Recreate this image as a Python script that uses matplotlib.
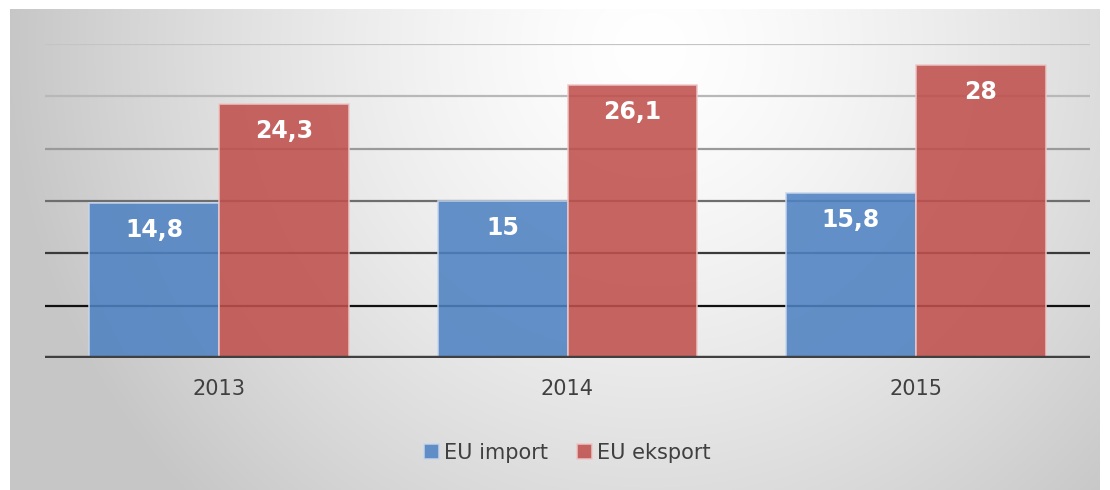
import numpy as np
import matplotlib
matplotlib.use("Agg")
import matplotlib.pyplot as plt

years = ["2013", "2014", "2015"]
eu_import = [14.8, 15.0, 15.8]
eu_eksport = [24.3, 26.1, 28.0]
import_labels = ["14,8", "15", "15,8"]
eksport_labels = ["24,3", "26,1", "28"]
series_names = ["EU import", "EU eksport"]

W, H = 1110, 490
fig = plt.figure(figsize=(W / 100, H / 100), dpi=100)
fig.patch.set_facecolor("white")

# background panel with radial gradient
bg = fig.add_axes([10 / W, 0, 1090 / W, (H - 9) / H], zorder=0)
yy, xx = np.mgrid[0:481, 0:1090]
cx, cy = 640, 40
rx, ry = 640, 640
t = np.sqrt(((xx - cx) / rx) ** 2 + ((yy - cy) / ry) ** 2)
t = np.clip(t, 0, 1)
val = 1.0 - 0.22 * t ** 1.4
img = np.dstack([val, val, val])
bg.imshow(img, aspect="auto", interpolation="bilinear", extent=[0, 1, 0, 1], origin="upper")
bg.set_axis_off()

ax = fig.add_axes([45 / W, (H - 358) / H, 1045 / W, (358 - 44) / H], zorder=1)
ax.patch.set_alpha(0)
ax.set_xlim(-0.5, 2.5)
ax.set_ylim(0, 30)

grid_vals = [5, 10, 15, 20, 25, 30]
grid_cols = ["#111111", "#3a3a3a", "#6e6e6e", "#9a9a9a", "#b8b8b8", "#c4c4c4"]
for gv, gc in zip(grid_vals, grid_cols):
    ax.axhline(gv, color=gc, lw=1.6, zorder=1)
ax.axhline(0, color="#404040", lw=3.2, zorder=4)

x = np.arange(len(years))
w = 0.373
b1 = ax.bar(x - w / 2, eu_import, w, color="#4f82c2", alpha=0.88, edgecolor="#c8d6ec",
            linewidth=1.2, zorder=2, label=series_names[0])
b2 = ax.bar(x + w / 2, eu_eksport, w, color="#c0504d", alpha=0.88, edgecolor="#eec8c8",
            linewidth=1.2, zorder=2, label=series_names[1])

for bars, labels in ((b1, import_labels), (b2, eksport_labels)):
    for rect, lab in zip(bars, labels):
        ax.annotate(lab, (rect.get_x() + rect.get_width() / 2, rect.get_height()),
                    xytext=(0, -27), textcoords="offset pixels",
                    ha="center", va="center", color="white", fontsize=17,
                    fontweight="bold", zorder=5)

ax.set_xticks(x)
ax.set_xticklabels(years, fontsize=15, color="#404040")
ax.tick_params(axis="x", length=0, pad=15)
ax.set_yticks([])
for s in ax.spines.values():
    s.set_visible(False)

leg = fig.legend(handles=[b1, b2], labels=series_names, loc="center",
                 bbox_to_anchor=(567 / W, (H - 453) / H), ncol=2, frameon=False,
                 fontsize=15, handlelength=0.75, handleheight=0.75, handletextpad=0.2,
                 columnspacing=1.4)
for txt in leg.get_texts():
    txt.set_color("#404040")

fig.savefig("out.png", dpi=100)
